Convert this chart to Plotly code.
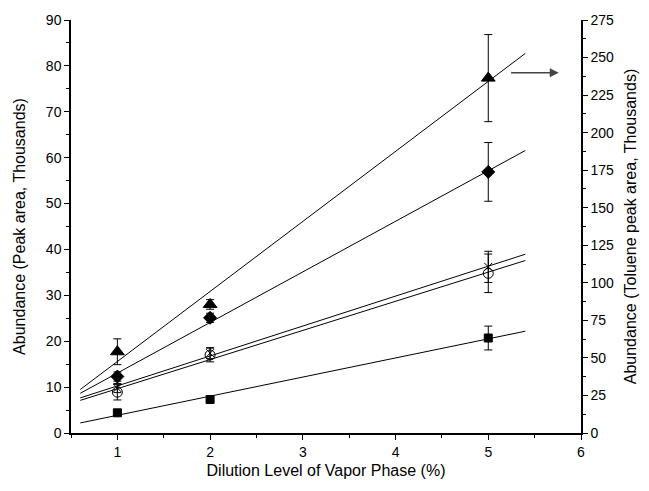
import numpy as np
import plotly.graph_objects as go

# Data
dilution = [1, 2, 5]
square_vals = [4.4, 7.3, 20.7]
square_err = [0.6, 0.4, 2.6]
circle_vals = [8.9, 17.0, 34.8]
circle_err = [1.7, 1.5, 4.2]
cross_vals = [9.8, 17.4, 36.2]
cross_err = [1.0, 1.2, 3.4]
diamond_vals = [12.3, 25.1, 56.9]
diamond_err = [1.0, 1.0, 6.4]
# toluene (right axis, thousands)
triangle_vals = [54.1, 85.6, 236.3]
triangle_err = [8.6, 3.2, 29.0]
fit_range = [0.6, 5.4]

FONT = "Liberation Sans, Arial, sans-serif"

fig = go.Figure()

def add_series(vals, err, symbol, size, yaxis="y"):
    coef = np.polyfit(dilution, vals, 1)
    fx = np.array(fit_range)
    fig.add_trace(go.Scatter(x=fx, y=np.polyval(coef, fx), mode="lines",
                             line=dict(color="black", width=1), yaxis=yaxis,
                             showlegend=False, hoverinfo="skip"))
    marker = dict(symbol=symbol, size=size, color="black",
                  line=dict(color="black", width=1))
    fig.add_trace(go.Scatter(x=dilution, y=vals, mode="markers", marker=marker,
                             error_y=dict(type="data", array=err, color="black",
                                          thickness=1, width=4),
                             yaxis=yaxis, showlegend=False))

add_series(square_vals, square_err, "square", 8)
add_series(circle_vals, circle_err, "circle-open", 10)
add_series(cross_vals, cross_err, "x-thin-open", 8)
add_series(diamond_vals, diamond_err, "diamond", 10)
add_series(triangle_vals, triangle_err, "triangle-up", 12, yaxis="y2")

fig.add_annotation(x=5.76, y=78.5, ax=5.23, ay=78.5, xref="x", yref="y",
                   axref="x", ayref="y", showarrow=True, arrowhead=2,
                   arrowsize=1.2, arrowwidth=1.5, arrowcolor="#444", text="")

axis_common = dict(showline=True, linecolor="black", linewidth=1.5, ticks="outside",
                   ticklen=5, tickwidth=1.2, tickcolor="black", showgrid=False,
                   zeroline=False, automargin=False,
                   tickfont=dict(family=FONT, size=14, color="black"))

fig.update_layout(
    width=649, height=491,
    margin=dict(l=71, r=68, t=20, b=58),
    plot_bgcolor="white", paper_bgcolor="white",
    font=dict(family=FONT, color="black"),
    xaxis=dict(range=[0.5, 6], dtick=1, tick0=0,
               minor=dict(dtick=0.5, tick0=0.5, ticks="outside", ticklen=3,
                          tickcolor="black"),
               title=dict(text="Dilution Level of Vapor Phase (%)",
                          font=dict(family=FONT, size=16), standoff=6),
               **axis_common),
    yaxis=dict(range=[0, 90], dtick=10, tick0=0,
               minor=dict(dtick=5, ticks="outside", ticklen=3, tickcolor="black"),
               title=dict(text="Abundance (Peak area, Thousands)",
                          font=dict(family=FONT, size=16), standoff=16),
               **axis_common),
    yaxis2=dict(range=[0, 275], dtick=25, tick0=0, overlaying="y", side="right",
                minor=dict(dtick=12.5, ticks="outside", ticklen=3, tickcolor="black"),
                title=dict(text="Abundance (Toluene peak area, Thousands)",
                           font=dict(family=FONT, size=16), standoff=12),
                **axis_common),
)

fig.write_html("out.html")
